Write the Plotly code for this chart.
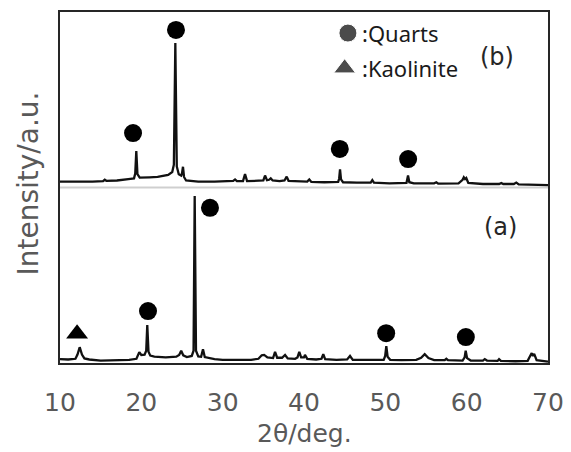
import plotly.graph_objects as go

# ---- data ----
two_theta_a = [10.0, 11.0, 11.9, 12.15, 12.42, 12.7, 13.0, 13.6, 15.0, 17.0, 18.5, 19.4, 19.75, 20.0,
               20.4, 20.6, 20.73, 20.88, 21.1, 21.6, 23.0, 24.3, 24.65, 24.9, 25.15, 25.6, 26.2, 26.42,
               26.56, 26.72, 27.0, 27.35, 27.58, 27.8, 28.3, 29.0, 30.0, 32.0, 33.5, 34.4, 34.8, 35.1,
               35.5, 36.2, 36.44, 36.7, 37.3, 37.67, 38.0, 38.9, 39.2, 39.42, 39.65, 40.0, 40.12, 40.4,
               41.5, 42.15, 42.37, 42.6, 44.0, 45.3, 45.66, 46.0, 48.0, 49.8, 49.98, 50.12, 50.28, 50.6,
               52.0, 53.8, 54.4, 54.84, 55.3, 56.0, 57.3, 57.5, 57.7, 59.5, 59.75, 59.88, 60.05, 60.5,
               62.0, 62.22, 62.5, 63.8, 63.98, 64.2, 66.0, 67.5, 67.85, 68.0, 68.15, 68.3, 68.6, 70.0]
intensity_a = [1.1, 1.0, 1.2, 2.4, 4.5, 2.4, 1.3, 1.0, 0.7, 0.8, 0.9, 1.2, 3.1, 2.3,
               2.4, 3.5, 10.8, 3.2, 2.1, 1.8, 1.6, 1.8, 2.3, 3.5, 2.2, 1.7, 2.0, 3.5,
               47.6, 3.5, 1.9, 1.8, 3.9, 1.7, 1.4, 1.1, 0.9, 0.9, 0.9, 1.2, 2.2, 2.3,
               1.6, 1.4, 3.2, 1.5, 1.5, 2.3, 1.3, 1.2, 1.6, 3.2, 1.6, 1.6, 2.3, 1.2,
               1.0, 1.2, 2.5, 1.1, 0.9, 1.0, 2.0, 0.9, 0.8, 0.9, 2.0, 4.8, 1.8, 0.9,
               0.8, 0.9, 1.5, 2.5, 1.4, 0.8, 0.8, 1.2, 0.8, 0.7, 1.6, 3.5, 1.4, 0.7,
               0.7, 1.1, 0.7, 0.6, 1.1, 0.6, 0.5, 0.6, 2.2, 2.8, 2.0, 2.6, 0.8, 0.4]

two_theta_b = [10.0, 12.0, 14.0, 15.3, 15.5, 15.7, 17.0, 18.4, 19.1, 19.25, 19.38, 19.52, 19.8, 21.0,
               22.0, 23.3, 23.8, 24.0, 24.18, 24.36, 24.6, 24.9, 25.0, 25.12, 25.25, 25.5, 27.0, 29.0,
               31.0, 31.3, 31.52, 31.75, 32.5, 32.75, 33.0, 34.5, 35.0, 35.21, 35.45, 35.7, 35.91, 36.15,
               37.0, 37.6, 37.87, 38.1, 39.5, 40.4, 40.65, 40.9, 42.5, 44.2, 44.32, 44.43, 44.55, 44.8,
               46.5, 48.2, 48.4, 48.6, 50.5, 52.6, 52.79, 52.95, 53.5, 56.0, 56.27, 56.5, 59.0, 59.5,
               59.65, 59.8, 59.95, 60.2, 62.0, 64.0, 64.26, 64.5, 65.8, 66.1, 66.4, 68.0, 70.0]
intensity_b = [51.7, 51.6, 51.7, 51.8, 52.2, 51.9, 52.0, 52.4, 52.6, 54.0, 60.4, 53.8, 52.8, 52.9,
               53.0, 53.6, 54.4, 56.5, 91.2, 56.0, 53.8, 53.4, 54.0, 55.9, 53.0, 52.0, 51.7, 51.7,
               51.7, 51.9, 52.3, 51.8, 51.8, 53.8, 51.8, 51.8, 52.0, 53.4, 52.1, 52.2, 52.6, 52.0,
               51.8, 52.0, 53.1, 51.9, 51.7, 51.7, 52.3, 51.6, 51.5, 51.6, 52.5, 55.2, 52.3, 51.5,
               51.4, 51.4, 52.1, 51.4, 51.2, 51.3, 53.4, 51.5, 51.2, 51.2, 51.5, 51.1, 51.2, 52.2,
               52.9, 52.4, 52.7, 51.3, 51.0, 51.0, 51.3, 51.0, 51.0, 51.4, 50.9, 50.9, 50.7]

quartz_a_x = [20.82, 28.44, 50.1, 59.9]
quartz_a_y = [14.8, 44.2, 8.5, 7.4]
kaolinite_a_x = [12.1]
kaolinite_a_y = [8.3]
quartz_b_x = [18.98, 24.26, 44.4, 52.8]
quartz_b_y = [65.5, 94.9, 61.0, 58.1]

legend_symbols = ["circle", "triangle-up"]
legend_x = [45.4, 45.0]
legend_y = [94.0, 84.0]
legend_labels = [":Quarts", ":Kaolinite"]
legend_label_x = [46.9, 46.9]

panel_labels = ["(b)", "(a)"]
panel_label_x = [63.7, 64.1]
panel_label_y = [87.2, 38.7]

tick_vals = [10, 20, 30, 40, 50, 60, 70]
tick_text = ["10", "20", "30", "40", "50", "60", "70"]

x_title = "2θ/deg."
y_title = "Intensity/a.u."

separator_y = 50

# ---- figure ----
fig = go.Figure()

fig.add_shape(type="line", xref="x", yref="y", x0=10, x1=70, y0=separator_y, y1=separator_y,
              line=dict(color="#cfcfcf", width=2), layer="below")

line_style = dict(color="#111111", width=2.3)
fig.add_trace(go.Scatter(x=two_theta_a, y=intensity_a, mode="lines", line=line_style))
fig.add_trace(go.Scatter(x=two_theta_b, y=intensity_b, mode="lines", line=line_style))

fig.add_trace(go.Scatter(x=quartz_a_x + quartz_b_x, y=quartz_a_y + quartz_b_y, mode="markers",
                         marker=dict(symbol="circle", size=18, color="black")))
fig.add_trace(go.Scatter(x=kaolinite_a_x, y=kaolinite_a_y, mode="markers",
                         marker=dict(symbol="triangle-up", size=19, color="black")))
fig.add_trace(go.Scatter(x=legend_x, y=legend_y, mode="markers",
                         marker=dict(symbol=legend_symbols, size=[18, 19], color="black")))

for lx, ly, lab in zip(legend_label_x, legend_y, legend_labels):
    fig.add_annotation(x=lx, y=ly, text=lab, showarrow=False, xanchor="left", yanchor="middle",
                       font=dict(family="Noto Sans", size=22, color="#1a1a1a"))

for px_, py_, lab in zip(panel_label_x, panel_label_y, panel_labels):
    fig.add_annotation(x=px_, y=py_, text=lab, showarrow=False, xanchor="center", yanchor="middle",
                       font=dict(family="DejaVu Sans", size=24, color="#262626"))

axis_font = dict(family="DejaVu Sans", size=25, color="#595959")

fig.add_annotation(x=0.5, y=0, xref="paper", yref="paper", text=x_title, showarrow=False,
                   xanchor="center", yanchor="middle", yshift=-70, font=axis_font)
fig.add_annotation(x=0, y=0.5, xref="paper", yref="paper", text=y_title, showarrow=False,
                   xanchor="center", yanchor="middle", xshift=-32, yshift=4, textangle=-90,
                   font=dict(family="DejaVu Sans", size=28, color="#595959"))

# the page body adds an 8px offset, so the figure is sized to the remaining window
fig.update_layout(
    width=563, height=444,
    margin=dict(l=52, r=23, t=4, b=89, autoexpand=False),
    paper_bgcolor="white", plot_bgcolor="white",
    showlegend=False,
    xaxis=dict(range=[10, 70], tickvals=tick_vals, ticktext=tick_text, ticks="",
               showgrid=False, zeroline=False, showline=True, mirror=True, automargin=False,
               linecolor="#262626", linewidth=2, tickfont=axis_font,
               ticklabelstandoff=16),
    yaxis=dict(range=[0, 100], showticklabels=False, ticks="", showgrid=False, zeroline=False,
               showline=True, mirror=True, automargin=False, linecolor="#262626", linewidth=2),
)

fig.write_html("out.html")
